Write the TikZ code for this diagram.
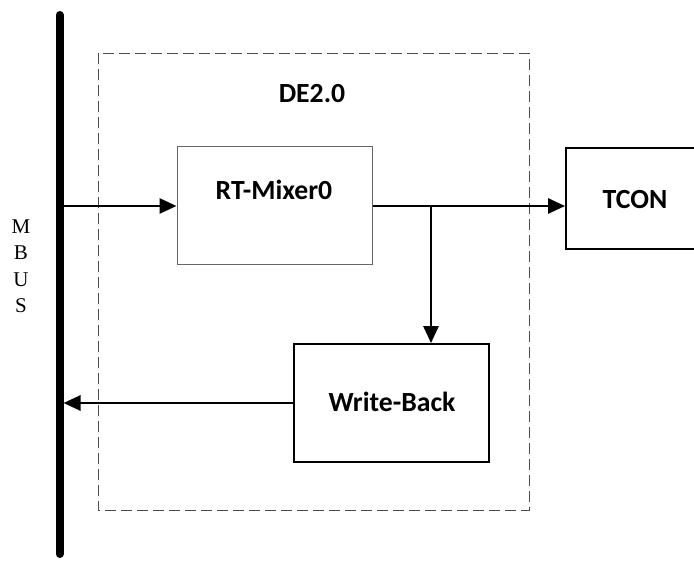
\documentclass[tikz,border=0pt]{standalone}
\usepackage{fontspec}
\setmainfont{Liberation Serif}
\newfontfamily\calib{Carlito}
\usetikzlibrary{arrows.meta}
\begin{document}
\begin{tikzpicture}[x=1pt,y=-1pt,
  lbl/.style={font=\calib\bfseries\fontsize{27.7}{32}\selectfont, inner sep=0pt},
  blockbox/.style={draw, line width=1.8pt, inner sep=0pt},
  graybox/.style={draw=black!60, line width=1pt, inner sep=0pt},
  conn/.style={line width=2.8pt, -{Triangle[length=17pt,width=15pt]}},
  wire/.style={line width=2.8pt}]
\useasboundingbox (0,0) rectangle (694,561);
% dashed DE2.0 frame
\draw[black!70, line width=0.9pt, dash pattern=on 11pt off 5pt] (98,53) rectangle (529,510);
\node[lbl] (de) at (312,94) {DE2.0};
% bus
\draw[line width=8pt, line cap=round] (59.5,15) -- (59.5,554);
\node[font=\fontsize{21}{26.5}\selectfont, align=center, inner sep=0pt] (mbus) at (21,266) {M\\B\\U\\S};
\coordinate (busin) at (63.5,206);
\coordinate (busout) at (63.5,403);
% blocks
\node[graybox, minimum width=195pt, minimum height=118pt] (mix) at (274.5,206) {};
\node[lbl] (mixt) at (274,190) {RT-Mixer0};
\node[blockbox, minimum width=195pt, minimum height=118pt] (wb) at (391.5,403) {};
\node[lbl] (wbt) at (392,402) {Write-Back};
\node[blockbox, minimum width=138pt, minimum height=101pt] (tcon) at (635,198.5) {};
\node[lbl] (tcont) at (635,200) {TCON};
\coordinate (junc) at (431,206);
% connectors
\draw[conn] (busin) -- (mix.west);
\draw[conn] (mix.east) -- (mix.east -| tcon.west);
\draw[conn] (junc) -- (junc |- wb.north);
\draw[conn] (wb.west) -- (busout);
\end{tikzpicture}
\end{document}
